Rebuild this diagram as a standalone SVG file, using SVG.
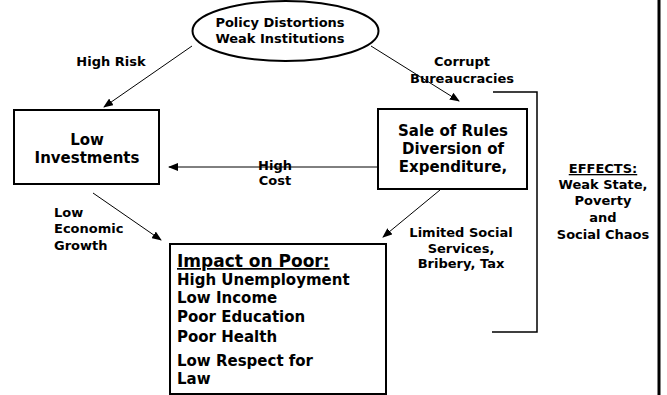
<svg xmlns="http://www.w3.org/2000/svg" width="667" height="395" viewBox="0 0 667 395">
<style>
text{font-family:"DejaVu Sans","Verdana",sans-serif;font-weight:bold;fill:#000}
.box{fill:#fff;stroke:#000;stroke-width:2}
.lbl{font-size:13px}
.bt{font-size:15px;text-anchor:middle}
.c{text-anchor:middle}
.conn line{stroke:#000;stroke-width:1}
</style>
<defs>
<marker id="ah" markerUnits="userSpaceOnUse" markerWidth="10" markerHeight="8" refX="9" refY="4" orient="auto">
<path d="M0,0 L10,4 L0,8 Z" fill="#000"/>
</marker>
</defs>
<rect width="667" height="395" fill="#fff"/>

<g id="policy">
<ellipse cx="285.5" cy="31" rx="93" ry="30" class="box"/>
<text class="lbl c" x="280" y="27">Policy Distortions</text>
<text class="lbl c" x="280" y="43">Weak Institutions</text>
</g>

<g id="low-investments">
<rect x="14" y="110" width="145" height="74" class="box"/>
<text class="bt" x="87" y="145">Low</text>
<text class="bt" x="87" y="163">Investments</text>
</g>

<g id="sale-of-rules">
<rect x="378" y="109" width="149" height="80" class="box" stroke-width="2.5"/>
<text class="bt" x="453" y="136">Sale of Rules</text>
<text class="bt" x="453" y="154">Diversion of</text>
<text class="bt" x="453" y="172">Expenditure,</text>
</g>

<g id="impact">
<rect x="170" y="244" width="216" height="150" class="box"/>
<text x="177" y="267" font-size="17" text-decoration="underline">Impact on Poor:</text>
<text x="177" y="285" font-size="15">High Unemployment</text>
<text x="177" y="303" font-size="15">Low Income</text>
<text x="177" y="322" font-size="15">Poor Education</text>
<text x="177" y="342" font-size="15">Poor Health</text>
<text x="177" y="366" font-size="15">Low Respect for</text>
<text x="177" y="384" font-size="15">Law</text>
</g>

<g id="effects">
<polyline points="493,92 537,92 537,332 492,332" fill="none" stroke="#000" stroke-width="1.5"/>
<text class="lbl c" x="603" y="173" text-decoration="underline">EFFECTS:</text>
<text class="lbl c" x="603" y="189">Weak State,</text>
<text class="lbl c" x="603" y="205">Poverty</text>
<text class="lbl c" x="603" y="222">and</text>
<text class="lbl c" x="603" y="239">Social Chaos</text>
<line x1="659" y1="0" x2="659" y2="395" stroke="#000" stroke-width="3"/>
</g>

<g id="connectors" class="conn">
<line x1="192" y1="46" x2="104" y2="107" marker-end="url(#ah)"/>
<line x1="371" y1="46" x2="459" y2="101" marker-end="url(#ah)"/>
<line x1="378" y1="167" x2="169" y2="167" marker-end="url(#ah)"/>
<line x1="93" y1="193" x2="161" y2="240" marker-end="url(#ah)"/>
<line x1="440" y1="190" x2="383" y2="237" marker-end="url(#ah)"/>
</g>

<g id="labels">
<text class="lbl c" x="111" y="66">High Risk</text>
<text class="lbl c" x="462" y="66">Corrupt</text>
<text class="lbl c" x="462" y="83">Bureaucracies</text>
<text class="lbl c" x="275" y="170">High</text>
<text class="lbl c" x="275" y="185">Cost</text>
<text class="lbl" x="54" y="217">Low</text>
<text class="lbl" x="54" y="233">Economic</text>
<text class="lbl" x="54" y="250">Growth</text>
<text class="lbl c" x="461" y="237">Limited Social</text>
<text class="lbl c" x="461" y="253">Services,</text>
<text class="lbl c" x="461" y="268">Bribery, Tax</text>
</g>
</svg>
